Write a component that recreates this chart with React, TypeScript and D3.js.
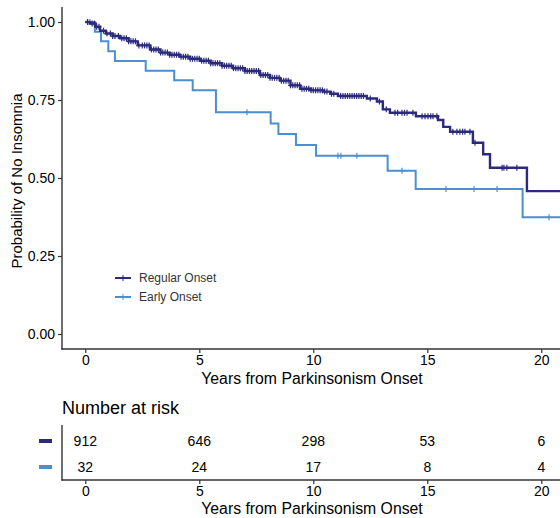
import React, { useRef, useEffect } from 'react';
import * as d3 from 'd3';

// Kaplan-Meier step knots
const regularTimes = [0, 0.2, 0.45, 0.65, 0.9, 1.2, 1.52, 1.9, 2.3, 2.84, 3.3, 3.7, 4.15, 4.6, 5.03, 5.5, 6.0, 6.48, 7.0, 7.66, 8.1, 8.54, 9.0, 9.42, 9.9, 10.42, 10.75, 11.08, 12.35, 12.79, 13.05, 13.36, 14.5, 15.47, 15.7, 16.0, 17.0, 17.45, 17.75, 19.37, 22];
const regularSurv = [1.0, 0.995, 0.985, 0.972, 0.963, 0.955, 0.948, 0.938, 0.925, 0.912, 0.902, 0.895, 0.889, 0.882, 0.876, 0.868, 0.86, 0.852, 0.843, 0.83, 0.821, 0.812, 0.797, 0.786, 0.781, 0.777, 0.77, 0.763, 0.755, 0.745, 0.72, 0.709, 0.698, 0.686, 0.664, 0.648, 0.613, 0.576, 0.533, 0.458, 0.458];
const earlyTimes = [0, 0.42, 0.69, 1.01, 1.3, 2.65, 3.9, 4.71, 5.73, 8.13, 8.47, 9.24, 10.12, 13.26, 14.49, 19.18, 22];
const earlySurv = [1.0, 0.969, 0.938, 0.906, 0.875, 0.844, 0.813, 0.781, 0.711, 0.675, 0.641, 0.606, 0.571, 0.523, 0.465, 0.374, 0.374];

const regularCensor = [0.1, 0.3, 0.4, 0.5, 0.6, 0.8, 0.95, 1.1, 1.2, 1.3, 1.45, 1.6, 1.7, 1.8, 1.9, 2.0, 2.1, 2.2, 2.35, 2.5, 2.6, 2.7, 2.8, 2.9, 3.0, 3.1, 3.2, 3.3, 3.4, 3.5, 3.6, 3.7, 3.8, 3.9, 4.0, 4.1, 4.2, 4.3, 4.4, 4.5, 4.6, 4.7, 4.8, 4.9, 5.0, 5.1, 5.2, 5.3, 5.4, 5.5, 5.6, 5.7, 5.8, 5.9, 6.0, 6.1, 6.2, 6.3, 6.4, 6.5, 6.6, 6.7, 6.8, 6.9, 7.0, 7.1, 7.2, 7.3, 7.4, 7.5, 7.6, 7.7, 7.8, 7.9, 8.0, 8.1, 8.2, 8.3, 8.4, 8.5, 8.6, 8.7, 8.8, 8.9, 9.0, 9.1, 9.2, 9.3, 9.4, 9.5, 9.6, 9.7, 9.8, 9.9, 10.0, 10.1, 10.2, 10.3, 10.4, 10.5, 10.6, 10.8, 10.9, 11.2, 11.3, 11.4, 11.5, 11.6, 11.7, 11.8, 11.9, 12.0, 12.1, 12.2, 12.5, 12.9, 13.2, 13.58, 13.7, 13.89, 14.0, 14.11, 14.37, 14.77, 14.9, 15.03, 15.15, 15.25, 15.42, 16.12, 16.3, 16.43, 16.55, 16.65, 16.87, 17.09, 18.28, 18.36, 18.49, 18.93];
const earlyCensor = [0.2, 7.09, 11.08, 11.21, 11.91, 13.89, 15.82, 17.05, 18.06, 20.34];

const groups = ['Regular Onset', 'Early Onset'];
const colors = ['#2b2a7c', '#4b8fd1'];

const riskTimes = [0, 5, 10, 15, 20];
const riskRegular = [912, 646, 298, 53, 6];
const riskEarly = [32, 24, 17, 8, 4];
const yTicks = [0, 0.25, 0.5, 0.75, 1];

const FONT = '"Liberation Sans", Arial, Helvetica, sans-serif';

export default function App() {
  const svgRef = useRef<SVGSVGElement>(null);

  useEffect(() => {
    const svg = d3.select(svgRef.current);
    svg.selectAll('*').remove();
    svg.style('font-family', FONT);

    const x = d3.scaleLinear().domain([0, 20]).range([85.3, 541.3]);
    const y = d3.scaleLinear().domain([0, 1]).range([334, 22]);
    const axisColor = '#333';

    // clip
    svg.append('defs').append('clipPath').attr('id', 'plotclip')
      .append('rect').attr('x', 62).attr('y', 0).attr('width', 500).attr('height', 349);

    const plot = svg.append('g').attr('clip-path', 'url(#plotclip)');
    const series = [
      { t: regularTimes, s: regularSurv, c: regularCensor, color: colors[0], w: 2.4 },
      { t: earlyTimes, s: earlySurv, c: earlyCensor, color: colors[1], w: 2 },
    ];
    const line = d3.line<number[]>()
      .x(d => x(d[0]))
      .y(d => y(d[1]))
      .curve(d3.curveStepAfter);

    // draw early first so regular sits on top
    [1, 0].forEach(i => {
      const sr = series[i];
      const pts = sr.t.map((t, j) => [t, sr.s[j]]);
      plot.append('path')
        .attr('d', line(pts))
        .attr('fill', 'none')
        .attr('stroke', sr.color)
        .attr('stroke-width', sr.w);
      const bis = d3.bisector((d: number) => d).right;
      const g = plot.append('g').attr('stroke', sr.color).attr('stroke-width', 1.2);
      sr.c.forEach(ct => {
        const idx = Math.max(0, bis(sr.t, ct) - 1);
        const cx = x(ct), cy = y(sr.s[idx]);
        g.append('line').attr('x1', cx).attr('x2', cx).attr('y1', cy - 3).attr('y2', cy + 3);
        g.append('line').attr('x1', cx - 2.5).attr('x2', cx + 2.5).attr('y1', cy).attr('y2', cy);
      });
    });

    // axes lines
    svg.append('line').attr('x1', 62).attr('x2', 62).attr('y1', 7).attr('y2', 349.5)
      .attr('stroke', axisColor).attr('stroke-width', 1.4);
    svg.append('line').attr('x1', 61.3).attr('x2', 560).attr('y1', 349).attr('y2', 349)
      .attr('stroke', axisColor).attr('stroke-width', 1.4);

    const yAxis = svg.append('g').attr('transform', 'translate(62,0)')
      .call(d3.axisLeft(y).tickValues(yTicks).tickFormat(d3.format('.2f')).tickSize(4).tickPadding(3));
    yAxis.select('.domain').remove();
    yAxis.selectAll('line').attr('stroke', axisColor).attr('stroke-width', 1.2);
    yAxis.selectAll('text').attr('font-size', 14).attr('fill', '#000').style('font-family', FONT);

    const xAxis = svg.append('g').attr('transform', 'translate(0,349)')
      .call(d3.axisBottom(x).tickValues(riskTimes).tickSize(4).tickPadding(2));
    xAxis.select('.domain').remove();
    xAxis.selectAll('line').attr('stroke', axisColor).attr('stroke-width', 1.2);
    xAxis.selectAll('text').attr('font-size', 14).attr('fill', '#000').style('font-family', FONT);

    svg.append('text').attr('x', 312).attr('y', 383.5).attr('text-anchor', 'middle')
      .attr('font-size', 15.8).text('Years from Parkinsonism Onset');
    svg.append('text').attr('transform', 'translate(22,181) rotate(-90)').attr('text-anchor', 'middle')
      .attr('font-size', 15).text('Probability of No Insomnia');

    // legend
    const legY = [278, 297];
    groups.forEach((name, i) => {
      const g = svg.append('g');
      g.append('line').attr('x1', 115).attr('x2', 131).attr('y1', legY[i]).attr('y2', legY[i])
        .attr('stroke', colors[i]).attr('stroke-width', 2);
      g.append('line').attr('x1', 123).attr('x2', 123).attr('y1', legY[i] - 3).attr('y2', legY[i] + 3)
        .attr('stroke', colors[i]).attr('stroke-width', 1);
      g.append('text').attr('x', 139).attr('y', legY[i] + 4).attr('font-size', 12)
        .attr('fill', '#333').text(name);
    });

    // risk table
    svg.append('text').attr('x', 62).attr('y', 414).attr('font-size', 18).text('Number at risk');
    svg.append('line').attr('x1', 62).attr('x2', 62).attr('y1', 425).attr('y2', 480.5)
      .attr('stroke', axisColor).attr('stroke-width', 1.4);
    svg.append('line').attr('x1', 61.3).attr('x2', 560).attr('y1', 480).attr('y2', 480)
      .attr('stroke', axisColor).attr('stroke-width', 1.4);
    const tAxis = svg.append('g').attr('transform', 'translate(0,480)')
      .call(d3.axisBottom(x).tickValues(riskTimes).tickSize(4).tickPadding(2));
    tAxis.select('.domain').remove();
    tAxis.selectAll('line').attr('stroke', axisColor).attr('stroke-width', 1.2);
    tAxis.selectAll('text').attr('font-size', 14).attr('fill', '#000').style('font-family', FONT);
    svg.append('text').attr('x', 312).attr('y', 514).attr('text-anchor', 'middle')
      .attr('font-size', 15.8).text('Years from Parkinsonism Onset');

    const rowY = d3.scalePoint<string>().domain(groups).range([441, 467]);
    [riskRegular, riskEarly].forEach((row, i) => {
      const yy = rowY(groups[i]) as number;
      svg.append('rect').attr('x', 39).attr('y', yy - 2).attr('width', 13).attr('height', 4)
        .attr('fill', colors[i]);
      svg.append('g').selectAll('text').data(row).join('text')
        .attr('x', (d, j) => x(riskTimes[j]))
        .attr('y', yy + 5)
        .attr('text-anchor', 'middle')
        .attr('font-size', 14)
        .text(d => d);
    });
  }, []);

  return (
    <svg ref={svgRef} width={560} height={518} style={{ position: 'absolute', left: 0, top: 0, background: '#fff' }} />
  );
}
